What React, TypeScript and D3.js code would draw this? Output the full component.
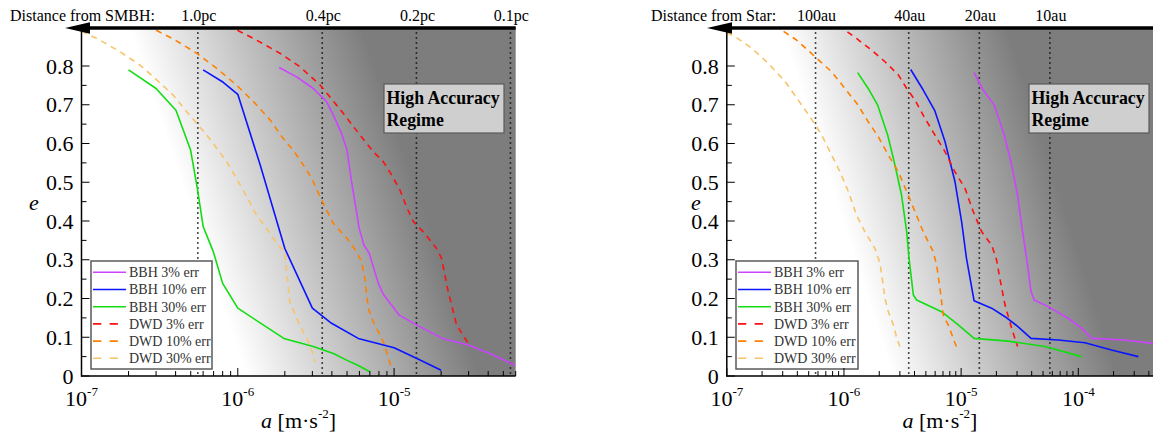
import React from 'react';
import * as d3 from 'd3';

const W = 1153;
const H = 432;

// ---------- Left panel (distance from SMBH) : [a, e] ----------
const smbhBBH3: [number, number][] = [
  [1.84e-6, 0.796], [2.38e-6, 0.772], [3.04e-6, 0.742], [3.7e-6, 0.708], [4.08e-6, 0.674],
  [4.61e-6, 0.626], [5.0e-6, 0.583], [5.35e-6, 0.5], [5.75e-6, 0.424], [5.98e-6, 0.381],
  [6.41e-6, 0.338], [6.93e-6, 0.317], [7.93e-6, 0.239], [8.53e-6, 0.211], [1.08e-5, 0.157],
  [1.39e-5, 0.132], [2.04e-5, 0.097], [2.98e-5, 0.08], [4.1e-5, 0.058], [5.93e-5, 0.028],
];
const smbhBBH10: [number, number][] = [
  [6.0e-7, 0.79], [8.07e-7, 0.758], [1.0e-6, 0.727], [1.39e-6, 0.545], [2.0e-6, 0.329],
  [3.0e-6, 0.175], [3.98e-6, 0.136], [5.9e-6, 0.097], [1.0e-5, 0.073], [1.39e-5, 0.046],
  [2.0e-5, 0.015],
];
const smbhBBH30: [number, number][] = [
  [2.0e-7, 0.79], [3.0e-7, 0.742], [4.02e-7, 0.686], [4.99e-7, 0.583], [5.51e-7, 0.484],
  [6.01e-7, 0.385], [6.97e-7, 0.321], [8.0e-7, 0.239], [1.0e-6, 0.175], [1.97e-6, 0.097],
  [3.04e-6, 0.076], [4.09e-6, 0.058], [4.97e-6, 0.041], [5.9e-6, 0.027], [7.0e-6, 0.011],
];
const smbhDWD3: [number, number][] = [
  [8.6e-7, 0.905], [1.26e-6, 0.871], [1.86e-6, 0.833], [2.5e-6, 0.798], [3.36e-6, 0.751],
  [4.73e-6, 0.678], [6.04e-6, 0.622], [7.36e-6, 0.579], [8.53e-6, 0.553], [9.64e-6, 0.519],
  [1.09e-5, 0.48], [1.2e-5, 0.437], [1.33e-5, 0.398], [1.57e-5, 0.368], [1.87e-5, 0.329],
  [2.01e-5, 0.304], [2.22e-5, 0.218], [2.51e-5, 0.132], [2.98e-5, 0.084],
];
const smbhDWD10: [number, number][] = [
  [2.6e-7, 0.905], [3.86e-7, 0.87], [5.46e-7, 0.833], [7.33e-7, 0.794], [9.8e-7, 0.751],
  [1.26e-6, 0.708], [1.61e-6, 0.661], [1.95e-6, 0.613], [2.26e-6, 0.583], [2.62e-6, 0.545],
  [2.97e-6, 0.51], [3.36e-6, 0.463], [3.7e-6, 0.428], [4.08e-6, 0.394], [5.0e-6, 0.355],
  [5.75e-6, 0.321], [6.19e-6, 0.295], [6.5e-6, 0.252], [6.84e-6, 0.175], [7.36e-6, 0.14],
  [8.53e-6, 0.089], [9.5e-6, 0.028],
];
const smbhDWD30: [number, number][] = [
  [1.0e-7, 0.89], [1.31e-7, 0.867], [1.76e-7, 0.837], [2.36e-7, 0.803], [3.03e-7, 0.764],
  [3.86e-7, 0.725], [4.71e-7, 0.682], [5.46e-7, 0.652], [6.32e-7, 0.622], [7.33e-7, 0.588],
  [8.49e-7, 0.553], [9.8e-7, 0.51], [1.14e-6, 0.463], [1.32e-6, 0.415], [1.53e-6, 0.381],
  [1.77e-6, 0.342], [2.0e-6, 0.321], [2.03e-6, 0.286], [2.1e-6, 0.235], [2.15e-6, 0.192],
  [2.38e-6, 0.149], [2.62e-6, 0.114], [2.9e-6, 0.08], [3.12e-6, 0.037],
];

// ---------- Right panel (distance from Star) : [a, e] ----------
const starBBH3: [number, number][] = [
  [1.29e-5, 0.783], [1.54e-5, 0.738], [1.92e-5, 0.699], [2.33e-5, 0.622], [2.7e-5, 0.545],
  [3.03e-5, 0.467], [3.28e-5, 0.39], [3.62e-5, 0.304], [3.95e-5, 0.218], [4.2e-5, 0.196],
  [5.53e-5, 0.179], [8.2e-5, 0.149], [1.07e-4, 0.123], [1.3e-4, 0.097], [2.5e-4, 0.093],
  [4.4e-4, 0.084],
];
const starBBH10: [number, number][] = [
  [3.71e-6, 0.791], [4.75e-6, 0.738], [5.97e-6, 0.684], [7.28e-6, 0.605], [8.85e-6, 0.502],
  [1.01e-5, 0.398], [1.11e-5, 0.304], [1.29e-5, 0.194], [1.82e-5, 0.175], [2.37e-5, 0.153],
  [3.07e-5, 0.127], [3.95e-5, 0.097], [6.75e-5, 0.093], [1.14e-4, 0.086], [1.92e-4, 0.067],
  [3.25e-4, 0.05],
];
const starBBH30: [number, number][] = [
  [1.31e-6, 0.783], [1.61e-6, 0.742], [1.94e-6, 0.699], [2.36e-6, 0.622], [2.72e-6, 0.545],
  [3.1e-6, 0.467], [3.43e-6, 0.372], [3.59e-6, 0.304], [3.91e-6, 0.209], [4.17e-6, 0.196],
  [6.81e-6, 0.166], [9.45e-6, 0.132], [1.29e-5, 0.097], [2.52e-5, 0.09], [5.19e-5, 0.076],
  [1.07e-4, 0.05],
];
const starDWD3: [number, number][] = [
  [9.0e-7, 0.905], [1.28e-6, 0.871], [1.72e-6, 0.841], [2.24e-6, 0.811], [2.91e-6, 0.777],
  [3.43e-6, 0.742], [4.04e-6, 0.712], [4.91e-6, 0.665], [5.97e-6, 0.622], [7.28e-6, 0.579],
  [8.85e-6, 0.527], [1.08e-5, 0.484], [1.27e-5, 0.424], [1.5e-5, 0.372], [1.82e-5, 0.338],
  [2.01e-5, 0.299], [2.14e-5, 0.252], [2.37e-5, 0.183], [2.7e-5, 0.123], [3.03e-5, 0.076],
];
const starDWD10: [number, number][] = [
  [2.55e-7, 0.905], [3.94e-7, 0.867], [5.66e-7, 0.824], [7.85e-7, 0.785], [1.02e-6, 0.742],
  [1.32e-6, 0.699], [1.61e-6, 0.656], [1.96e-6, 0.618], [2.39e-6, 0.57], [2.91e-6, 0.527],
  [3.43e-6, 0.476], [4.04e-6, 0.424], [4.75e-6, 0.372], [5.78e-6, 0.321], [6.18e-6, 0.286],
  [6.6e-6, 0.226], [7.04e-6, 0.157], [7.76e-6, 0.132], [8.57e-6, 0.097], [9.33e-6, 0.067],
];
const starDWD30: [number, number][] = [
  [1.0e-7, 0.886], [1.175e-7, 0.876], [1.63e-7, 0.846], [2.26e-7, 0.807], [3.14e-7, 0.76],
  [4.07e-7, 0.712], [5.13e-7, 0.669], [6.45e-7, 0.622], [7.85e-7, 0.57], [9.25e-7, 0.527],
  [1.09e-6, 0.476], [1.28e-6, 0.415], [1.51e-6, 0.372], [1.84e-6, 0.329], [2.03e-6, 0.291],
  [2.12e-6, 0.252], [2.24e-6, 0.2], [2.39e-6, 0.166], [2.64e-6, 0.132], [2.81e-6, 0.1],
  [3.0e-6, 0.076],
];

const seriesNames = ['BBH 3% err', 'BBH 10% err', 'BBH 30% err', 'DWD 3% err', 'DWD 10% err', 'DWD 30% err'];
const seriesColors = ['#cc44ff', '#0a14ff', '#11dd11', '#ff1010', '#ff8000', '#f6c46a'];
const seriesDashed = [false, false, false, true, true, true];

const yTicks = [0, 0.1, 0.2, 0.3, 0.4, 0.5, 0.6, 0.7, 0.8];
const yTickLabels = ['0', '0.1', '0.2', '0.3', '0.4', '0.5', '0.6', '0.7', '0.8'];
const yMinorTicks = [0.05, 0.15, 0.25, 0.35, 0.45, 0.55, 0.65, 0.75];

const smbhDistLabels = ['1.0pc', '0.4pc', '0.2pc', '0.1pc'];
const smbhDistA = [5.55e-7, 3.47e-6, 1.39e-5, 5.55e-5];
const starDistLabels = ['100au', '40au', '20au', '10au'];
const starDistA = [5.72e-7, 3.57e-6, 1.43e-5, 5.72e-5];

const smbhDecades = [-7, -6, -5];
const starDecades = [-7, -6, -5, -4];

const FONT = "'Liberation Serif', 'Times New Roman', serif";
const Y0 = 376;
const YTOP = 27.25;

interface PanelProps {
  id: string;
  xL: number;
  xR: number;
  xMax: number;
  series: [number, number][][];
  distLabels: string[];
  distA: number[];
  decades: number[];
  title: string;
  titleX: number;
  arrowTip: number;
  arrowBase: number;
  legendX: number;
  legendW: number;
  boxX: number;
  grad: [number, number, number, number];
  eX: number;
}

function Panel(p: PanelProps) {
  const x = d3.scaleLog().domain([1e-7, p.xMax]).range([p.xL, p.xR]);
  const y = d3.scaleLinear().domain([0, 0.9]).range([Y0, YTOP]);
  const line = d3.line<[number, number]>().x(d => x(d[0])).y(d => y(d[1]));

  const minor: { v: number; major: boolean }[] = [];
  for (let k = -7; k <= -3; k++) {
    for (let m = 1; m <= 9; m++) {
      const v = m * Math.pow(10, k);
      if (v >= 1e-7 && v <= p.xMax * 1.0001) minor.push({ v, major: m === 1 });
    }
  }

  const clipId = `clip-${p.id}`;
  const gradId = `grad-${p.id}`;
  const legendY = 261;
  const rowY = (i: number) => 272.3 + i * 17.2;

  return (
    <g>
      <defs>
        <clipPath id={clipId}>
          <rect x={p.xL} y={YTOP} width={p.xR - p.xL} height={Y0 - YTOP} />
        </clipPath>
        <linearGradient id={gradId} gradientUnits="userSpaceOnUse" x1={p.grad[0]} y1={p.grad[1]} x2={p.grad[2]} y2={p.grad[3]}>
          <stop offset="0" stopColor="#ffffff" />
          <stop offset="0.5" stopColor="#bdbdbd" />
          <stop offset="1" stopColor="#7d7d7d" />
        </linearGradient>
      </defs>
      <rect x={p.xL} y={YTOP} width={p.xR - p.xL} height={Y0 - YTOP} fill={`url(#${gradId})`} />
      {/* dotted distance lines */}
      {p.distA.map((a, i) => (
        <line key={`d${i}`} x1={x(a)} x2={x(a)} y1={YTOP} y2={Y0} stroke="#111" strokeWidth={1.6} strokeDasharray="1.5,3.5" />
      ))}
      {/* curves */}
      <g clipPath={`url(#${clipId})`}>
        {p.series.map((s, i) => (
          <path key={`s${i}`} d={line(s) || ''} fill="none" stroke={seriesColors[i]} strokeWidth={1.6}
            strokeDasharray={seriesDashed[i] ? '6,5' : undefined} strokeLinejoin="round" />
        ))}
      </g>
      {/* legend */}
      <rect x={p.legendX} y={legendY} width={p.legendW} height={108} fill="#ffffff" stroke="#5a5a5a" strokeWidth={1.5} />
      {seriesNames.map((n, i) => (
        <g key={`l${i}`}>
          <line x1={p.legendX + 2} x2={p.legendX + 35} y1={rowY(i)} y2={rowY(i)} stroke={seriesColors[i]} strokeWidth={1.6}
            strokeDasharray={seriesDashed[i] ? '8.3,8.3' : undefined} />
          <text x={p.legendX + 38} y={rowY(i) + 4.8} fontFamily={FONT} fontSize={14} fill="#333">{n}</text>
        </g>
      ))}
      {/* high accuracy box */}
      <rect x={p.boxX} y={84} width={120} height={49} fill="#cfcfcf" stroke="#5a5a5a" strokeWidth={1.2} />
      <text x={p.boxX + 2.5} y={104} fontFamily={FONT} fontSize={17.8} fontWeight="bold" fill="#000">High Accuracy</text>
      <text x={p.boxX + 2.5} y={126} fontFamily={FONT} fontSize={17.8} fontWeight="bold" fill="#000">Regime</text>
      {/* axes */}
      <line x1={p.xL} x2={p.xL} y1={YTOP} y2={Y0 + 0.75} stroke="#000" strokeWidth={1.5} />
      <line x1={p.xL} x2={p.xR} y1={Y0} y2={Y0} stroke="#000" strokeWidth={1.5} />
      {yTicks.map((t, i) => (
        <g key={`yt${i}`}>
          <line x1={p.xL} x2={p.xL + 8} y1={y(t)} y2={y(t)} stroke="#000" strokeWidth={1} />
          <text x={p.xL - 8} y={y(t) + 7.5} textAnchor="end" fontFamily={FONT} fontSize={22} fill="#000">{yTickLabels[i]}</text>
        </g>
      ))}
      {yMinorTicks.map((t, i) => (
        <line key={`ym${i}`} x1={p.xL} x2={p.xL + 5} y1={y(t)} y2={y(t)} stroke="#000" strokeWidth={1} />
      ))}
      {minor.map((m, i) => (
        <line key={`xm${i}`} x1={x(m.v)} x2={x(m.v)} y1={Y0} y2={Y0 - (m.major ? 8 : 5)} stroke="#000" strokeWidth={1} />
      ))}
      {p.decades.map(k => (
        <text key={`xl${k}`} x={x(Math.pow(10, k))} y={406} textAnchor="middle" fontFamily={FONT} fontSize={22} fill="#000">
          10<tspan fontSize={13} dy={-10}>{String(k)}</tspan>
        </text>
      ))}
      {/* axis titles */}
      <text x={(p.xL + p.xR) / 2} y={428} textAnchor="middle" fontFamily={FONT} fontSize={22} fill="#000">
        <tspan fontStyle="italic">a</tspan> [m·s<tspan fontSize={13} dy={-10}>-2</tspan><tspan dy={10}>]</tspan>
      </text>
      <text x={p.eX} y={210} textAnchor="middle" fontFamily={FONT} fontSize={22} fontStyle="italic" fill="#000">e</text>
      {/* top arrow */}
      <line x1={p.arrowBase - 2} x2={p.xR} y1={28} y2={28} stroke="#000" strokeWidth={3.5} />
      <path d={`M${p.arrowTip},28 L${p.arrowBase},22.3 L${p.arrowBase},33.7 Z`} fill="#000" />
      <text x={p.titleX} y={21} fontFamily={FONT} fontSize={16} fill="#000">{p.title}</text>
      {p.distA.map((a, i) => (
        <text key={`dl${i}`} x={x(a) + 1} y={21} textAnchor="middle" fontFamily={FONT} fontSize={16} fill="#000">{p.distLabels[i]}</text>
      ))}
    </g>
  );
}

export default function App() {
  return (
    <svg width={W} height={H} viewBox={`0 0 ${W} ${H}`}
      style={{ position: 'absolute', left: 0, top: 0, background: '#fff' }}>
      <rect x={0} y={0} width={W} height={H} fill="#fff" />
      <Panel id="smbh" xL={81.5} xR={515.7} xMax={6.0e-5}
        series={[smbhBBH3, smbhBBH10, smbhBBH30, smbhDWD3, smbhDWD10, smbhDWD30]}
        distLabels={smbhDistLabels} distA={smbhDistA} decades={smbhDecades}
        title="Distance from SMBH:" titleX={10} arrowTip={65} arrowBase={90}
        legendX={91} legendW={121} boxX={384} grad={[130, 30, 339.2, -40.5]} eX={34} />
      <Panel id="star" xL={726.8} xR={1153} xMax={4.34e-4}
        series={[starBBH3, starBBH10, starBBH30, starDWD3, starDWD10, starDWD30]}
        distLabels={starDistLabels} distA={starDistA} decades={starDecades}
        title="Distance from Star:" titleX={651} arrowTip={707} arrowBase={732}
        legendX={736} legendW={122} boxX={1029} grad={[782, 30, 987.3, -35.3]} eX={696} />
    </svg>
  );
}
